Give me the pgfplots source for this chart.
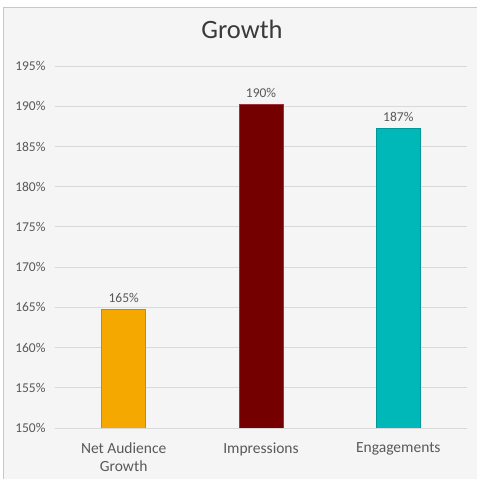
\documentclass[border=0pt]{standalone}
\usepackage{fontspec}
\setmainfont{Carlito}
\usepackage{pgfplots}
\pgfplotsset{compat=1.18}
\definecolor{bg}{HTML}{F5F5F5}
\definecolor{frame}{HTML}{C8C8C8}
\definecolor{gridc}{HTML}{D9D9D9}
\definecolor{txt}{HTML}{595959}
\definecolor{ttl}{HTML}{3A3A3A}
\definecolor{c1}{HTML}{F5A800}
\definecolor{c1b}{HTML}{C98B00}
\definecolor{c2}{HTML}{740000}
\definecolor{c2b}{HTML}{A0303A}
\definecolor{c3}{HTML}{00B8B8}
\definecolor{c3b}{HTML}{009898}
\begin{document}
\begin{tikzpicture}
\useasboundingbox (0bp,0bp) rectangle (477bp,479bp);
\fill[white] (0bp,0bp) rectangle (477bp,479bp);
\fill[bg] (3bp,0bp) rectangle (477bp,472bp);
\draw[frame, line width=0.8bp] (3bp,0bp) -- (3bp,472bp) -- (477bp,472bp);
\begin{axis}[
  at={(55bp,51bp)}, anchor=south west,
  scale only axis, width=412bp, height=362bp,
  xmin=-0.5, xmax=2.5, ymin=150, ymax=195,
  ytick={150,155,...,195},
  xtick={0,1,2},
  xticklabels={{Net Audience\\Growth},{Impressions},{Engagements}},
  axis line style={draw=none},
  major tick length=0pt,
  ymajorgrids,
  grid style={draw=gridc, line width=0.9bp},
  /pgf/number format/assume math mode=true,
  yticklabel={\pgfmathprintnumber{\tick}\%},
  yticklabel style={font=\fontsize{13.5bp}{16bp}\selectfont, text=txt, xshift=-6bp},
  xticklabel style={align=center, font=\fontsize{15.5bp}{18bp}\selectfont, text=txt, yshift=-11bp},
  title={Growth},
  title style={at={(0.454,1)}, anchor=center, yshift=31bp, font=\fontsize{26.5bp}{30bp}\selectfont, text=ttl},
  ybar, bar width=44bp, bar shift=0pt,
  point meta=explicit symbolic,
  nodes near coords,
  nodes near coords style={font=\fontsize{13.5bp}{16bp}\selectfont, text=txt, yshift=3bp},
]
\addplot[fill=c1, draw=c1b, line width=0.8bp] coordinates {(0,164.7) [165\%]};
\addplot[fill=c2, draw=c2b, line width=0.8bp] coordinates {(1,190.2) [190\%]};
\addplot[fill=c3, draw=c3b, line width=0.8bp] coordinates {(2,187.2) [187\%]};
\end{axis}
\end{tikzpicture}
\end{document}
